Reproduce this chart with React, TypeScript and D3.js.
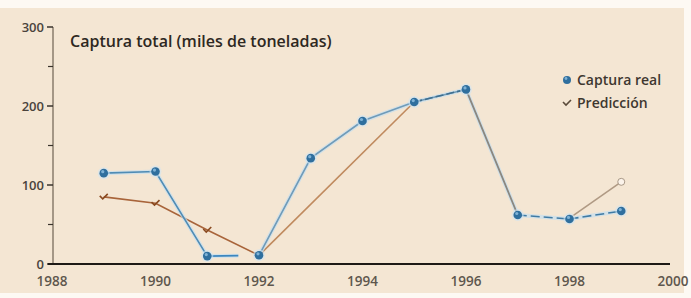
import React from "react";
import * as d3 from "d3";

const years = [1989, 1990, 1991, 1992, 1993, 1994, 1995, 1996, 1997, 1998, 1999];
const capturaReal = [115, 117, 10, 11, 134, 181, 205, 221, 62, 57, 67];
const prediccion: (number | null)[] = [85, 77, 43, 11, null, null, 205, 221, 63, 58, 104];
const xTicks = [1988, 1990, 1992, 1994, 1996, 1998, 2000];
const yTickLabels = [0, 100, 200, 300];
const yMinorTicks = [50, 150, 250];

const W = 691;
const H = 298;

export default function App() {
  const x = d3.scaleLinear().domain([1988, 2000]).range([52, 673]);
  const y = d3.scaleLinear().domain([0, 300]).range([264, 27]);

  const realPts = years.map((yr, i) => ({ yr, v: capturaReal[i] }));
  const predPts = years
    .map((yr, i) => ({ yr, v: prediccion[i] }))
    .filter((d) => d.v !== null) as { yr: number; v: number }[];

  const line = d3
    .line<{ yr: number; v: number }>()
    .x((d) => x(d.yr))
    .y((d) => y(d.v));

  const realA = realPts.slice(0, 3);
  const realGap = [realPts[2], { yr: 1991.6, v: realPts[2].v + (realPts[3].v - realPts[2].v) * 0.6 }];
  const realB = realPts.slice(3, 8);
  const realDrop = realPts.slice(7, 9);
  const realC = realPts.slice(8);

  const predA = predPts.slice(0, 4);
  const predB = predPts.slice(3, 5);
  const predEnd = predPts.slice(7);

  const font = "'Open Sans', 'Liberation Sans', Arial, sans-serif";

  return (
    <svg width={W} height={H} style={{ position: "absolute", left: 0, top: 0 }}>
      <rect x={0} y={0} width={W} height={H} fill="#fdf9f3" />
      <rect x={0} y={8} width={684} height={285} fill="#f4e6d3" />

      {/* y axis */}
      <line x1={x(1988) + 1} x2={x(1988) + 1} y1={y(300)} y2={y(0)} stroke="#8a7c6c" strokeWidth={1.5} />
      {yTickLabels.map((t) => (
        <g key={t}>
          <line x1={x(1988) - 5} x2={x(1988) + 1} y1={y(t)} y2={y(t)} stroke="#3a332c" strokeWidth={1.5} />
          <text x={x(1988) - 8} y={y(t) + 5} textAnchor="end" fontFamily={font} fontWeight={600} fontSize={13} fill="#4a433c">
            {t}
          </text>
        </g>
      ))}
      {yMinorTicks.map((t) => (
        <line key={t} x1={x(1988) - 4} x2={x(1988) + 1} y1={y(t)} y2={y(t)} stroke="#3a332c" strokeWidth={1.2} />
      ))}

      {/* x axis */}
      <line x1={x(1988) - 4} x2={670} y1={y(0)} y2={y(0)} stroke="#1e1a16" strokeWidth={2} />
      {xTicks.map((t) => (
        <text key={t} x={x(t)} y={286} textAnchor="middle" fontFamily={font} fontWeight={600} fontSize={13.5} fill="#5e564d">
          {t}
        </text>
      ))}

      <text x={70} y={47} fontFamily={font} fontWeight={600} fontSize={16} fill="#2e2822">
        Captura total (miles de toneladas)
      </text>

      {/* prediction line */}
      <path d={line(predA) || ""} fill="none" stroke="#a8643a" strokeWidth={1.6} />
      <path d={line(predB) || ""} fill="none" stroke="#c08a5e" strokeWidth={1.6} />

      {/* real line halo */}
      {[realA, realGap, realB, realDrop, realC].map((seg, i) => (
        <path key={"h" + i} d={line(seg) || ""} fill="none" stroke="#c4def0" strokeWidth={4} strokeOpacity={0.7} />
      ))}
      <path d={line(realA) || ""} fill="none" stroke="#4f8cb5" strokeWidth={1.6} />
      <path d={line(realGap) || ""} fill="none" stroke="#3b86bf" strokeWidth={1.8} />
      <path d={line(realB) || ""} fill="none" stroke="#6f9bb9" strokeWidth={1.6} />
      <path d={line(realB.slice(3)) || ""} fill="none" stroke="#3f6f8f" strokeWidth={1.6} strokeDasharray="8,3" />
      <path d={line(realDrop) || ""} fill="none" stroke="#8a8780" strokeWidth={1.8} />
      <path d={line(realC) || ""} fill="none" stroke="#3f7ba5" strokeWidth={1.6} strokeDasharray="9,4" />
      <path d={line(predEnd) || ""} fill="none" stroke="#b09a84" strokeWidth={1.6} />

      {/* prediction markers */}
      {predPts.slice(0, 4).map((d, i) => (
        <path
          key={"p" + i}
          d={`M${x(d.yr) - 4},${y(d.v) - 1} L${x(d.yr) - 1},${y(d.v) + 2} L${x(d.yr) + 4},${y(d.v) - 3}`}
          fill="none"
          stroke="#8a4a20"
          strokeWidth={1.6}
        />
      ))}
      <circle cx={x(1999)} cy={y(104)} r={3.5} fill="#fbf3ea" stroke="#a89886" strokeWidth={1} />

      {/* real markers */}
      {realPts.map((d, i) => (
        <g key={"r" + i}>
          <circle cx={x(d.yr)} cy={y(d.v)} r={6} fill="#cfe5f3" opacity={0.6} />
          <circle cx={x(d.yr)} cy={y(d.v)} r={4.3} fill="#2f6f9e" />
          <circle cx={x(d.yr) - 1} cy={y(d.v) - 1.5} r={1.6} fill="#7fb2d6" />
        </g>
      ))}

      {/* legend */}
      <circle cx={567} cy={80} r={4} fill="#2f6f9e" />
      <circle cx={566} cy={78.5} r={1.4} fill="#7fb2d6" />
      <text x={577} y={85} fontFamily={font} fontWeight={600} fontSize={14} fill="#3e3730">
        Captura real
      </text>
      <path d="M563,102 L566,105 L571,100" fill="none" stroke="#5a4a3a" strokeWidth={1.6} />
      <text x={577} y={108} fontFamily={font} fontWeight={600} fontSize={14} fill="#3e3730">
        Predicción
      </text>
    </svg>
  );
}
